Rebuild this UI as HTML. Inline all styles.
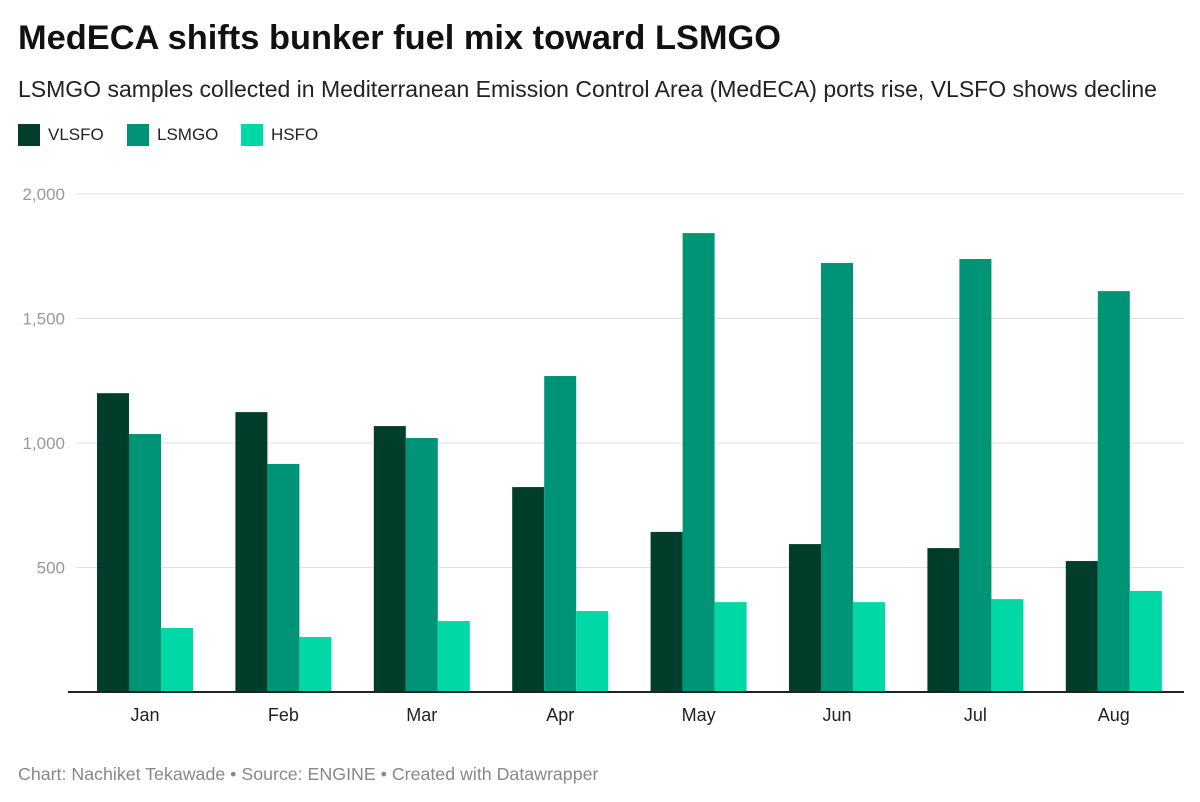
<!DOCTYPE html>
<html><head><meta charset="utf-8"><style>
body{margin:0;width:1200px;height:802px;background:#fff;font-family:"Liberation Sans",sans-serif;overflow:hidden;position:relative}
.t{position:absolute;left:18px;top:19px;font-size:34.4px;font-weight:bold;color:#111}
.s{position:absolute;left:18px;top:76px;font-size:23px;color:#222}
.lg{position:absolute;top:124px;font-size:17px;color:#222;display:flex;align-items:center}
.lg i{display:inline-block;width:22px;height:22px;margin-right:8px}
.f{position:absolute;left:18px;top:764px;font-size:17.8px;color:#888}
</style></head><body>
<div class="t">MedECA shifts bunker fuel mix toward LSMGO</div>
<div class="s">LSMGO samples collected in Mediterranean Emission Control Area (MedECA) ports rise, VLSFO shows decline</div>
<div class="lg" style="left:18px"><i style="background:#003d2b"></i>VLSFO</div>
<div class="lg" style="left:127px"><i style="background:#009477"></i>LSMGO</div>
<div class="lg" style="left:241px"><i style="background:#00d9a5"></i>HSFO</div>
<svg id="c" width="1200" height="802" style="position:absolute;left:0;top:0"></svg>
<div class="f">Chart: Nachiket Tekawade • Source: ENGINE • Created with Datawrapper</div>
<script>
const categories=["Jan","Feb","Mar","Apr","May","Jun","Jul","Aug"];
const vlsfo=[1200,1124,1068,823,643,594,578,526];
const lsmgo=[1036,916,1020,1269,1843,1723,1739,1610];
const hsfo=[257,221,285,325,361,361,373,406];
const yTicks=[500,1000,1500,2000];
const yTickLabels=["500","1,000","1,500","2,000"];
const NS="http://www.w3.org/2000/svg";
const svg=document.getElementById('c');
const y=v=>692-v*0.249;
const xc=i=>145+i*138.4;
function mk(t,a){const e=document.createElementNS(NS,t);for(const k in a)e.setAttribute(k,a[k]);svg.appendChild(e);return e;}
yTicks.forEach((v,i)=>{
  const l=mk('line',{x1:76,x2:1184,y1:y(v),y2:y(v),stroke:'#e0e0e0','stroke-width':1});
  
  
  const t=mk('text',{x:65,y:y(v)+6,'font-size':17,fill:'#999','text-anchor':'end','font-family':'Liberation Sans,sans-serif'});
  t.textContent=yTickLabels[i];
  
  
});
const series=[[vlsfo,'#003d2b','vlsfo'],[lsmgo,'#009477','lsmgo'],[hsfo,'#00d9a5','hsfo']];
categories.forEach((c,i)=>{
  series.forEach((s,j)=>{
    const v=s[0][i];
    const r=mk('rect',{x:xc(i)-48+j*32,y:y(v),width:32,height:692-y(v),fill:s[1]});
    
    
  });
  const t=mk('text',{x:xc(i),y:721,'font-size':18,fill:'#222','text-anchor':'middle','font-family':'Liberation Sans,sans-serif'});
  t.textContent=c;
  
  
});
const b=mk('line',{x1:68,x2:1184,y1:692,y2:692,stroke:'#222','stroke-width':2});


</script>
</body></html>
